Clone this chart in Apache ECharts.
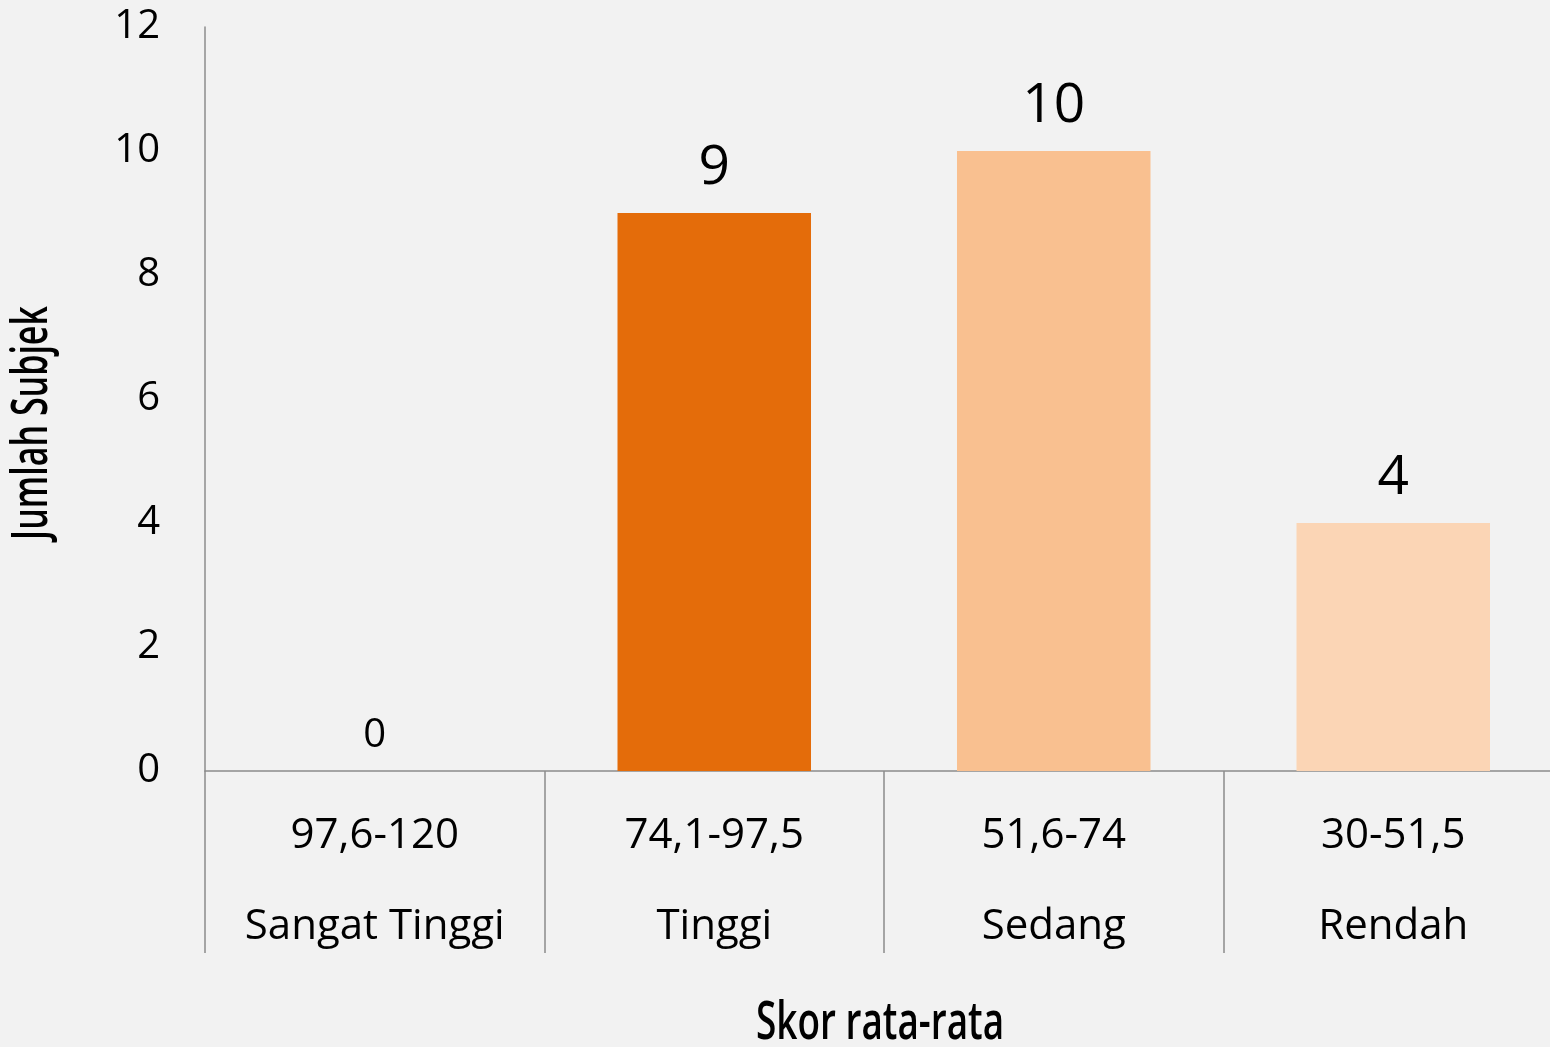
<!DOCTYPE html>
<html>
<head>
<meta charset="utf-8">
<script src="https://cdn.jsdelivr.net/npm/echarts@6/dist/echarts.min.js"></script>
<style>
html,body{margin:0;padding:0;background:#f2f2f2;}
#chart{width:1550px;height:1047px;}
</style>
</head>
<body>
<div id="chart"></div>
<script>
const ranges = ['97,6-120', '74,1-97,5', '51,6-74', '30-51,5'];
const levels = ['Sangat Tinggi', 'Tinggi', 'Sedang', 'Rendah'];
const counts = [0, 9, 10, 4];
const barColors = ['#e46c0a', '#e46c0a', '#f9c090', '#fbd5b5'];
const yTicks = [0, 2, 4, 6, 8, 10, 12];
const xTitle = 'Skor rata-rata';
const yTitle = 'Jumlah Subjek';

const categories = ranges.map((r, i) => r + '\n' + levels[i]);
const labelFont = "'Open Sans', 'Noto Sans', sans-serif";

const chart = echarts.init(document.getElementById('chart'));
chart.setOption({
  backgroundColor: '#f2f2f2',
  animation: false,
  grid: { left: 205, right: -13, top: 27, bottom: 276, containLabel: false, outerBoundsMode: 'none' },
  xAxis: {
    type: 'category',
    data: categories,
    axisLine: { lineStyle: { color: '#8c8c8c', width: 1.5 } },
    axisTick: { show: true, length: 182, interval: 0, lineStyle: { color: '#8c8c8c', width: 1.5 } },
    axisLabel: { interval: 0, margin: 20, fontFamily: labelFont, fontSize: 42, lineHeight: 91, color: '#000' }
  },
  yAxis: {
    type: 'value',
    min: yTicks[0],
    max: yTicks[yTicks.length - 1],
    interval: 2,
    splitLine: { show: false },
    axisLine: { show: true, lineStyle: { color: '#8c8c8c', width: 1.5 } },
    axisTick: { show: false },
    axisLabel: { margin: 45, fontFamily: labelFont, fontSize: 40, color: '#000', padding: [6, 0, 0, 0] }
  },
  graphic: [
    {
      type: 'text', x: 880, y: 1024, scaleX: 0.71,
      style: { text: xTitle, font: "600 52px 'Open Sans', sans-serif", fill: '#000', align: 'center', verticalAlign: 'middle' }
    },
    {
      type: 'text', x: 33, y: 423, rotation: Math.PI / 2, scaleX: 0.68,
      style: { text: yTitle, font: "600 50px 'Open Sans', sans-serif", fill: '#000', align: 'center', verticalAlign: 'middle' }
    }
  ],
  series: [{
    type: 'bar',
    barWidth: '57%',
    data: counts.map((v, i) => ({
      value: v,
      itemStyle: { color: barColors[i] },
      label: { fontSize: v === 0 ? 40 : 55, distance: v === 0 ? 15 : 17 }
    })),
    label: { show: true, position: 'top', fontFamily: labelFont, color: '#000' }
  }]
});
</script>
</body>
</html>
